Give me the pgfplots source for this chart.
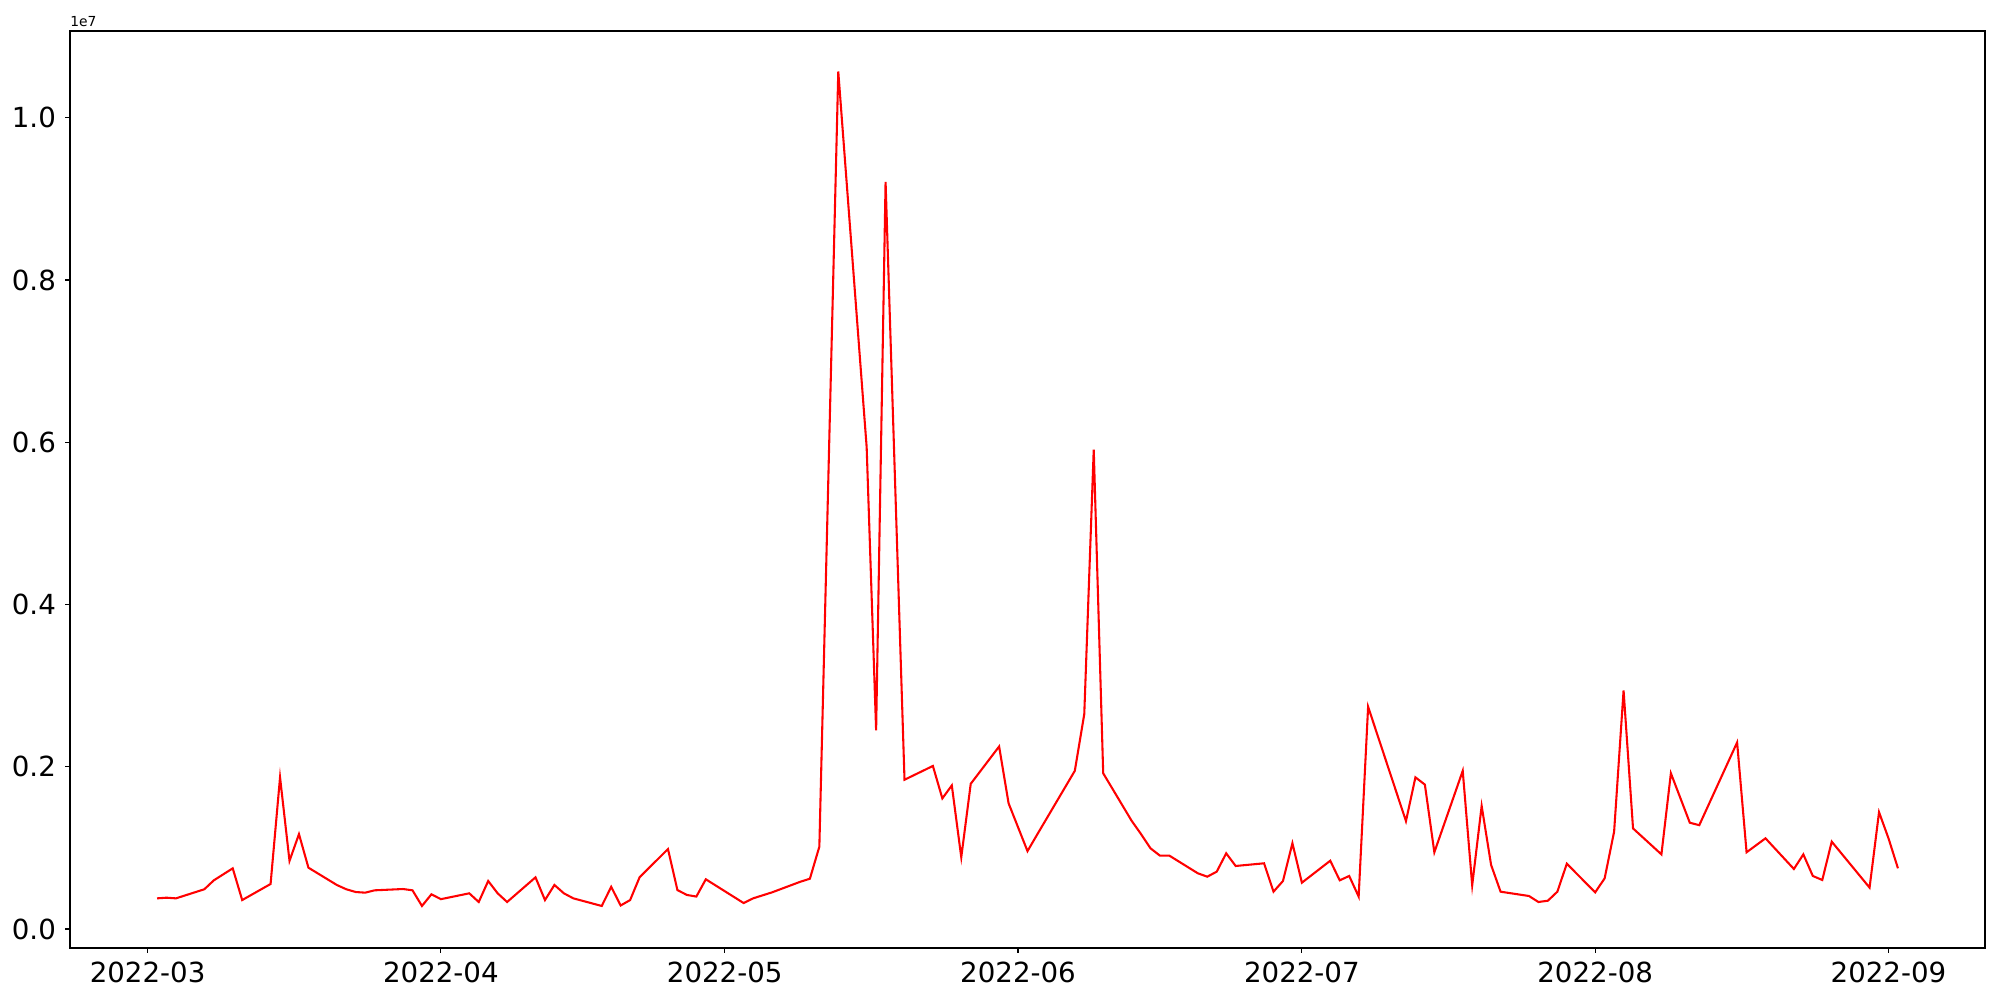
\documentclass[border=0pt]{standalone}
\usepackage{fontspec}
\setmainfont{DejaVu Sans}
\usepackage{pgfplots}
\pgfplotsset{compat=1.18}
\pgfplotstableread{
d v
1 0.378
2 0.386
3 0.378
6 0.49
7 0.60
9 0.748
10 0.357
13 0.555
14 1.87
15 0.84
16 1.17
17 0.756
20 0.543
21 0.49
22 0.456
23 0.448
24 0.477
27 0.493
28 0.477
29 0.284
30 0.428
31 0.368
34 0.44
35 0.333
36 0.592
37 0.44
38 0.333
41 0.637
42 0.357
43 0.543
44 0.44
45 0.378
48 0.284
49 0.52
50 0.29
51 0.357
52 0.637
55 0.986
56 0.48
57 0.42
58 0.40
59 0.613
63 0.32
64 0.378
66 0.452
69 0.583
70 0.62
71 1.015
73 10.57
76 5.94
77 2.45
78 9.21
80 1.84
83 2.01
84 1.61
85 1.77
86 0.884
87 1.79
90 2.25
91 1.55
93 0.96
94 1.16
98 1.95
99 2.65
100 5.91
101 1.92
104 1.335
105 1.17
106 0.995
107 0.904
108 0.904
111 0.687
112 0.645
113 0.707
114 0.933
115 0.777
118 0.81
119 0.46
120 0.592
121 1.057
122 0.571
125 0.842
126 0.60
127 0.654
128 0.40
129 2.74
133 1.33
134 1.87
135 1.78
136 0.946
139 1.95
140 0.539
141 1.517
142 0.789
143 0.46
146 0.407
147 0.333
148 0.349
149 0.46
150 0.805
153 0.452
154 0.625
155 1.2
156 2.94
157 1.24
160 0.92
161 1.92
163 1.31
164 1.28
168 2.30
169 0.946
171 1.118
174 0.74
175 0.92
176 0.654
177 0.604
178 1.077
182 0.51
183 1.44
184 1.118
185 0.748
}\datatable
\begin{document}
\begin{tikzpicture}
\path[use as bounding box] (0,0) rectangle (20in,10in);
\begin{axis}[
  name=ax,
  at={(0.70in,0.52in)}, anchor=south west,
  scale only axis, width=19.15in, height=9.17in,
  xmin=-8.2, xmax=194.2, ymin=-0.234, ymax=11.07,
  xtick={0,31,61,92,122,153,184},
  xticklabels={2022-03,2022-04,2022-05,2022-06,2022-07,2022-08,2022-09},
  ytick={0,2,4,6,8,10},
  yticklabels={0.0,0.2,0.4,0.6,0.8,1.0},
  tick align=outside, xtick pos=bottom, ytick pos=left,
  major tick length=3.5pt,
  tick style={black, line width=0.8pt},
  axis line style={line width=0.8pt},
  xticklabel style={font=\fontsize{20}{24}\selectfont, inner sep=0pt, yshift=-6.5pt},
  yticklabel style={font=\fontsize{20}{24}\selectfont, inner sep=0pt, xshift=-6.5pt},
  clip=true,
]
\addplot[color=red, line width=1.5pt, line join=miter] table[x=d, y=v] {\datatable};
\end{axis}
\node[anchor=base west, inner sep=0pt, font=\fontsize{10}{12}\selectfont] at ([yshift=3.6pt]ax.north west) {1e7};
\end{tikzpicture}
\end{document}
